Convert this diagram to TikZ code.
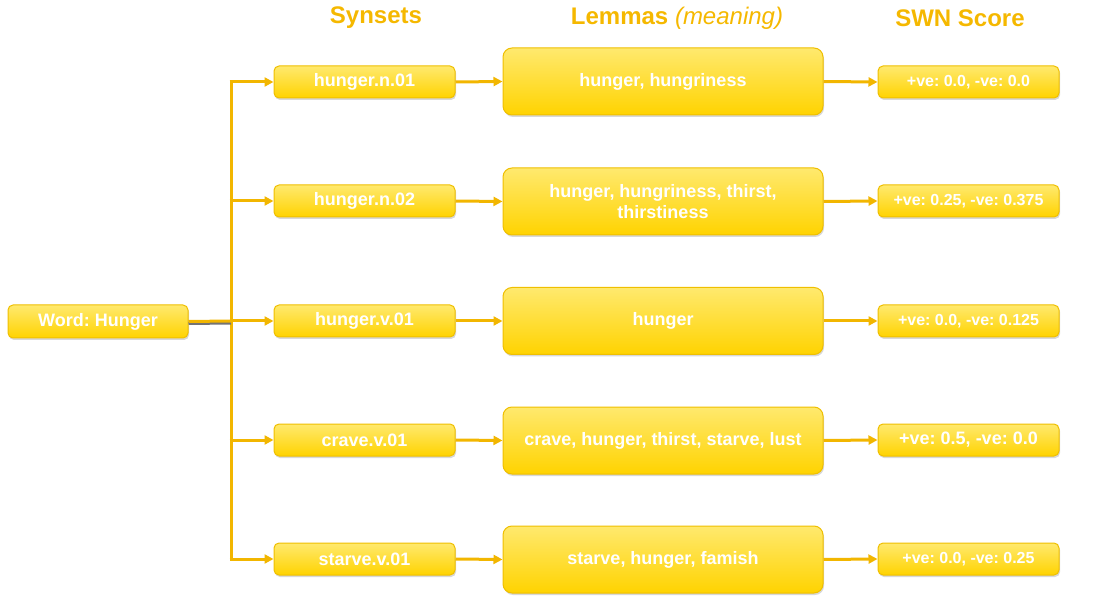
\documentclass[tikz,border=0pt]{standalone}
\usepackage{fontspec}
\setmainfont{Liberation Sans}
\usetikzlibrary{arrows.meta,shadows}
\frenchspacing
\definecolor{hdrc}{HTML}{F5B800}
\definecolor{lnc}{HTML}{F2B600}
\definecolor{boxtop}{HTML}{FFE96E}
\definecolor{boxbot}{HTML}{FFD300}
\definecolor{boxedge}{HTML}{EFBF00}
\tikzset{
 box/.style={draw=boxedge, line width=1pt, rounded corners=5pt, top color=boxtop, bottom color=boxbot, text=white, font=\bfseries\fontsize{18}{21}\selectfont, align=center, inner sep=0pt, drop shadow={shadow xshift=1pt,shadow yshift=-2pt,opacity=0.22,fill=black!70}},
 synbox/.style={box, minimum width=181pt, minimum height=32pt},
 lembox/.style={box, minimum width=320pt, minimum height=67pt, rounded corners=9pt},
 swnbox/.style={box, minimum width=181pt, minimum height=32pt, font=\bfseries\fontsize{16}{18}\selectfont},
 conn/.style={draw=lnc, line width=3pt, -{Triangle[length=9pt,width=9pt]}},
 trunk/.style={draw=lnc, line width=3pt},
 hdr/.style={text=hdrc, font=\bfseries\fontsize{24}{27}\selectfont}
}
\begin{document}
\frenchspacing
\begin{tikzpicture}[x=1pt,y=-1pt]
\useasboundingbox (0,0) rectangle (1108,609);
% headers
\node[hdr] (h1) at (376,18) {Synsets};
\node[hdr] (h2) at (677,18) {Lemmas \textmd{\itshape(meaning)}};
\node[hdr] (h3) at (960,18) {SWN Score};
% word
\node[box, minimum width=180pt, minimum height=33pt] (w) at (98,321.5) {Word: Hunger};
% synsets
\node[synbox] (s1) at (364.5,82) {hunger.n.01};
\node[synbox] (s2) at (364.5,201) {hunger.n.02};
\node[synbox] (s3) at (364.5,321) {hunger.v.01};
\node[synbox] (s4) at (364.5,440) {crave.v.01};
\node[synbox] (s5) at (364.5,559) {starve.v.01};
% lemmas
\node[lembox] (l1) at (663,81.5) {hunger, hungriness};
\node[lembox] (l2) at (663,201.5) {hunger, hungriness, thirst,\\thirstiness};
\node[lembox] (l3) at (663,321) {hunger};
\node[lembox] (l4) at (663,440.5) {crave, hunger, thirst, starve, lust};
\node[lembox] (l5) at (663,559.5) {starve, hunger, famish};
% scores
\node[swnbox] (r1) at (968.5,82) {+ve: 0.0, -ve: 0.0};
\node[swnbox] (r2) at (968.5,201) {+ve: 0.25, -ve: 0.375};
\node[swnbox] (r3) at (968.5,321) {+ve: 0.0, -ve: 0.125};
\node[swnbox, font=\bfseries\fontsize{18}{20}\selectfont] (r4) at (968.5,440) {+ve: 0.5, -ve: 0.0};
\node[swnbox] (r5) at (968.5,559) {+ve: 0.0, -ve: 0.25};
% trunk
\coordinate (t1) at (231,82);
\coordinate (t2) at (231,201);
\coordinate (t3) at (231,321);
\coordinate (t4) at (231,440);
\coordinate (t5) at (231,559);
\draw[trunk] ([yshift=1.5pt]t1) -- ([yshift=-1.5pt]t5);
\draw[black!55, line width=3pt] ([yshift=-2pt]w.east) -- ([yshift=-2pt]t3);
\draw[trunk] (w.east) -- (t3);
\foreach \i in {1,...,5} {
  \draw[conn] ([xshift=-1.5pt]t\i) -- (s\i.west);
  \draw[conn] (s\i.east) -- (l\i.west);
  \draw[conn] (l\i.east) -- (r\i.west);
}
\end{tikzpicture}
\end{document}
